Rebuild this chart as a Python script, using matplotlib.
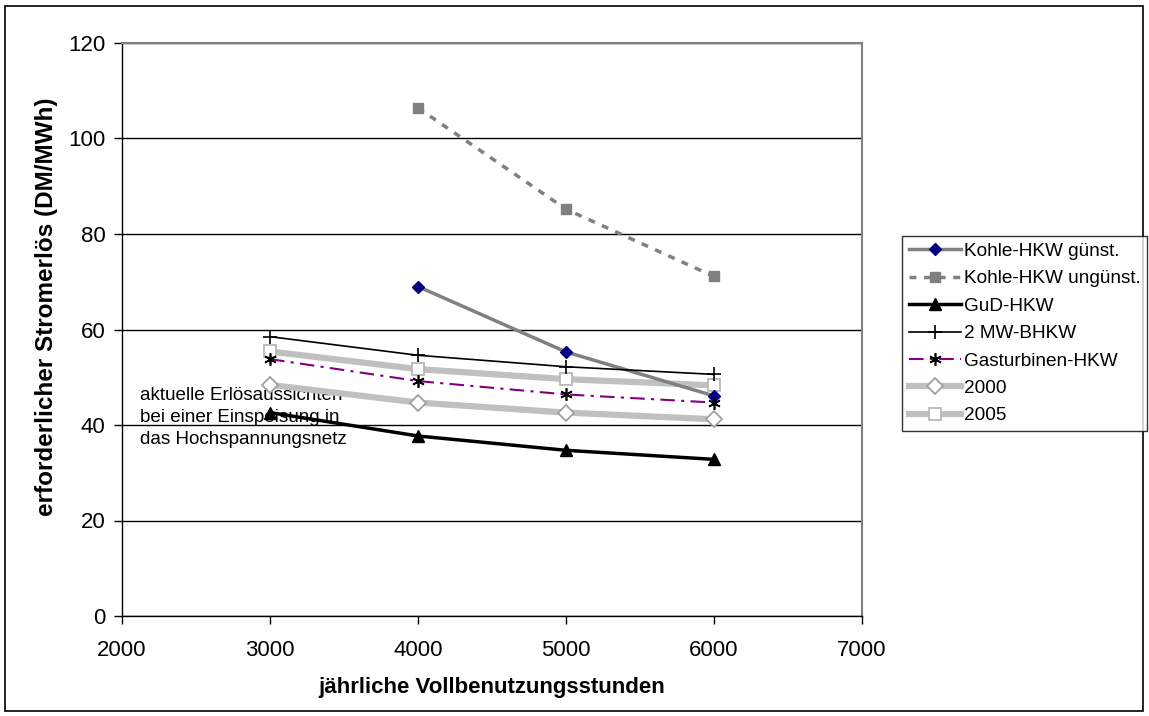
import matplotlib
matplotlib.use("Agg")
import matplotlib.pyplot as plt
from matplotlib.patches import Rectangle

plt.rcParams['font.family'] = ['Liberation Sans', 'DejaVu Sans']

hours_all = [3000, 4000, 5000, 6000]
hours_kohle = [4000, 5000, 6000]

kohle_guenst = [69.0, 55.3, 46.1]
kohle_unguenst = [106.4, 85.2, 71.1]
gud = [42.6, 37.7, 34.7, 32.8]
bhkw_2mw = [58.5, 54.6, 52.2, 50.6]
gasturbinen = [53.8, 49.2, 46.4, 44.7]
erloes_2000 = [48.4, 44.7, 42.6, 41.2]
erloes_2005 = [55.4, 51.7, 49.6, 48.3]

x_ticks = [2000, 3000, 4000, 5000, 6000, 7000]
y_ticks = [0, 20, 40, 60, 80, 100, 120]

fig = plt.figure(figsize=(11.49, 7.16), dpi=100)
ax = fig.add_axes([122/1149, 1-616/716, (862-122)/1149, (616-43)/716])

ax.set_xlim(2000, 7000)
ax.set_ylim(0, 120)
ax.set_xticks(x_ticks)
ax.set_yticks(y_ticks)
ax.yaxis.grid(True, color='black', lw=1)
ax.set_axisbelow(True)
for s in ['top', 'right']:
    ax.spines[s].set_color('#808080')
    ax.spines[s].set_linewidth(1.5)
for s in ['left', 'bottom']:
    ax.spines[s].set_color('black')
    ax.spines[s].set_linewidth(1)
ax.tick_params(axis='both', direction='out', length=6, width=1, labelsize=16)
ax.tick_params(axis='x', pad=11)
ax.tick_params(axis='y', pad=6)

ax.plot(hours_kohle, kohle_guenst, color='#808080', lw=2.5, marker='D', ms=6,
        mfc='#000080', mec='#000080', label='Kohle-HKW günst.', zorder=5)
ax.plot(hours_kohle, kohle_unguenst, color='#808080', lw=2.5, ls=(0, (2, 2.2)), marker='s', ms=7,
        mfc='#808080', mec='#808080', label='Kohle-HKW ungünst.', zorder=5)
ax.plot(hours_all, gud, color='black', lw=2.5, marker='^', ms=8,
        mfc='black', mec='black', label='GuD-HKW', zorder=5)
ax.plot(hours_all, bhkw_2mw, color='black', lw=1.2, marker='+', ms=10, mew=1.2,
        label='2 MW-BHKW', zorder=5)
ax.plot(hours_all, gasturbinen, color='#800080', lw=1.5, ls=(0, (7, 3, 1.5, 3)), marker=(6, 2, 0), ms=9,
        mew=1.2, mec='black', label='Gasturbinen-HKW', zorder=5)
ax.plot(hours_all, erloes_2000, color='#C0C0C0', lw=4.5, marker='D', ms=8,
        mfc='white', mec='#A0A0A0', mew=1.3, label='2000', zorder=4)
ax.plot(hours_all, erloes_2005, color='#C0C0C0', lw=4.5, marker='s', ms=9,
        mfc='white', mec='#B8B8B8', mew=1.3, label='2005', zorder=4)

ax.text(2122, 41.6, 'aktuelle Erlösaussichten\nbei einer Einspeisung in\ndas Hochspannungsnetz',
        fontsize=13.6, ha='left', va='center', linespacing=1.38, zorder=3)

ax.set_xlabel('jährliche Vollbenutzungsstunden', fontsize=16, fontweight='bold', labelpad=12)
ax.set_ylabel('erforderlicher Stromerlös (DM/MWh)', fontsize=17.5, fontweight='bold')
ax.yaxis.label.set_va('center')
ax.yaxis.set_label_coords((47-122)/740, (616-307)/573)

leg = fig.legend(loc='upper left', bbox_to_anchor=(902/1149, 1-236/716), fontsize=13.7,
                 frameon=True, fancybox=False, edgecolor='black', handlelength=2.75,
                 handletextpad=0.15, labelspacing=0.53, borderpad=0.35, borderaxespad=0)
leg.get_frame().set_linewidth(1)

fig.patches.append(Rectangle((5/1149, 5/716), 1138/1149, 705/716, transform=fig.transFigure,
                             fill=False, edgecolor='black', lw=1.2))

fig.savefig('out.png', dpi=100)
